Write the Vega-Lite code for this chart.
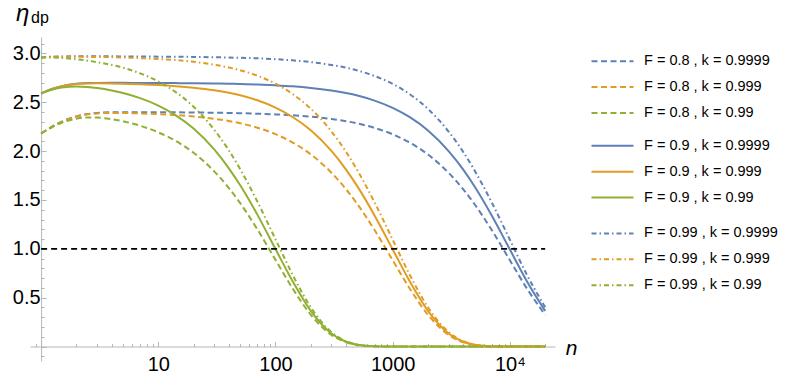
{
  "$schema": "https://vega.github.io/schema/vega-lite/v6.json",
  "width": 525,
  "height": 324,
  "autosize": {"type": "none"},
  "padding": {"left": 30, "top": 37, "right": 234, "bottom": 29},
  "background": "white",
  "config": {"view": {"stroke": null}, "font": "Liberation Sans"},
  "title": {"text": "dp", "anchor": "start", "frame": "group", "orient": "top", "offset": -38, "dx": 1, "fontSize": 16, "font": "Liberation Sans", "fontWeight": "normal", "baseline": "alphabetic", "color": "black"},
  "datasets": {
    "series": [
      {"s": "A", "F": 0.8, "label": "F = 0.8 , k = 0.9999"},
      {"s": "B", "F": 0.8, "label": "F = 0.8 , k = 0.999"},
      {"s": "C", "F": 0.8, "label": "F = 0.8 , k = 0.99"},
      {"s": "D", "F": 0.9, "label": "F = 0.9 , k = 0.9999"},
      {"s": "E", "F": 0.9, "label": "F = 0.9 , k = 0.999"},
      {"s": "F", "F": 0.9, "label": "F = 0.9 , k = 0.99"},
      {"s": "G", "F": 0.99, "label": "F = 0.99 , k = 0.9999"},
      {"s": "H", "F": 0.99, "label": "F = 0.99 , k = 0.999"},
      {"s": "I", "F": 0.99, "label": "F = 0.99 , k = 0.99"}
    ],
    "ref": [{"n": 1, "y": 1}, {"n": 20000, "y": 1}],
    "curves": [
      {"s":"A","n":1,"y":2.180},{"s":"A","n":1.25,"y":2.253},{"s":"A","n":1.5,"y":2.302},{"s":"A","n":2,"y":2.356},{"s":"A","n":2.5,"y":2.380},{"s":"A","n":3,"y":2.391},{"s":"A","n":4,"y":2.398},{"s":"A","n":5,"y":2.399},{"s":"A","n":7,"y":2.399},{"s":"A","n":10,"y":2.398},{"s":"A","n":14,"y":2.397},{"s":"A","n":20,"y":2.395},{"s":"A","n":30,"y":2.393},{"s":"A","n":40,"y":2.391},{"s":"A","n":50,"y":2.388},{"s":"A","n":70,"y":2.383},{"s":"A","n":100,"y":2.376},{"s":"A","n":140,"y":2.367},{"s":"A","n":200,"y":2.353},{"s":"A","n":300,"y":2.329},{"s":"A","n":400,"y":2.306},{"s":"A","n":500,"y":2.283},{"s":"A","n":700,"y":2.238},{"s":"A","n":1000,"y":2.172},{"s":"A","n":1400,"y":2.087},{"s":"A","n":2000,"y":1.965},{"s":"A","n":3000,"y":1.778},{"s":"A","n":4000,"y":1.609},{"s":"A","n":5000,"y":1.456},{"s":"A","n":7000,"y":1.192},{"s":"A","n":10000,"y":0.883},{"s":"A","n":14000,"y":0.592},{"s":"A","n":20000,"y":0.325},
      {"s":"B","n":1,"y":2.180},{"s":"B","n":1.25,"y":2.252},{"s":"B","n":1.5,"y":2.300},{"s":"B","n":2,"y":2.354},{"s":"B","n":2.5,"y":2.377},{"s":"B","n":3,"y":2.386},{"s":"B","n":4,"y":2.391},{"s":"B","n":5,"y":2.390},{"s":"B","n":7,"y":2.386},{"s":"B","n":10,"y":2.379},{"s":"B","n":14,"y":2.369},{"s":"B","n":20,"y":2.355},{"s":"B","n":30,"y":2.331},{"s":"B","n":40,"y":2.308},{"s":"B","n":50,"y":2.285},{"s":"B","n":70,"y":2.240},{"s":"B","n":100,"y":2.174},{"s":"B","n":140,"y":2.088},{"s":"B","n":200,"y":1.967},{"s":"B","n":300,"y":1.779},{"s":"B","n":400,"y":1.610},{"s":"B","n":500,"y":1.457},{"s":"B","n":700,"y":1.193},{"s":"B","n":1000,"y":0.883},{"s":"B","n":1400,"y":0.592},{"s":"B","n":2000,"y":0.325},{"s":"B","n":3000,"y":0.119},{"s":"B","n":4000,"y":0.044},{"s":"B","n":5000,"y":0.016},{"s":"B","n":7000,"y":0.002},{"s":"B","n":10000,"y":0},{"s":"B","n":14000,"y":0},{"s":"B","n":20000,"y":0},
      {"s":"C","n":1,"y":2.180},{"s":"C","n":1.25,"y":2.247},{"s":"C","n":1.5,"y":2.290},{"s":"C","n":2,"y":2.332},{"s":"C","n":2.5,"y":2.344},{"s":"C","n":3,"y":2.343},{"s":"C","n":4,"y":2.327},{"s":"C","n":5,"y":2.305},{"s":"C","n":7,"y":2.260},{"s":"C","n":10,"y":2.192},{"s":"C","n":14,"y":2.106},{"s":"C","n":20,"y":1.983},{"s":"C","n":30,"y":1.793},{"s":"C","n":40,"y":1.622},{"s":"C","n":50,"y":1.467},{"s":"C","n":70,"y":1.200},{"s":"C","n":100,"y":0.887},{"s":"C","n":140,"y":0.594},{"s":"C","n":200,"y":0.325},{"s":"C","n":300,"y":0.119},{"s":"C","n":400,"y":0.044},{"s":"C","n":500,"y":0.016},{"s":"C","n":700,"y":0.002},{"s":"C","n":1000,"y":0},{"s":"C","n":1400,"y":0},{"s":"C","n":2000,"y":0},{"s":"C","n":3000,"y":0},{"s":"C","n":4000,"y":0},{"s":"C","n":5000,"y":0},{"s":"C","n":7000,"y":0},{"s":"C","n":10000,"y":0},{"s":"C","n":14000,"y":0},{"s":"C","n":20000,"y":0},
      {"s":"D","n":1,"y":2.590},{"s":"D","n":1.25,"y":2.638},{"s":"D","n":1.5,"y":2.665},{"s":"D","n":2,"y":2.689},{"s":"D","n":2.5,"y":2.696},{"s":"D","n":3,"y":2.698},{"s":"D","n":4,"y":2.699},{"s":"D","n":5,"y":2.699},{"s":"D","n":7,"y":2.698},{"s":"D","n":10,"y":2.698},{"s":"D","n":14,"y":2.696},{"s":"D","n":20,"y":2.695},{"s":"D","n":30,"y":2.692},{"s":"D","n":40,"y":2.689},{"s":"D","n":50,"y":2.687},{"s":"D","n":70,"y":2.681},{"s":"D","n":100,"y":2.673},{"s":"D","n":140,"y":2.663},{"s":"D","n":200,"y":2.647},{"s":"D","n":300,"y":2.620},{"s":"D","n":400,"y":2.594},{"s":"D","n":500,"y":2.569},{"s":"D","n":700,"y":2.517},{"s":"D","n":1000,"y":2.443},{"s":"D","n":1400,"y":2.347},{"s":"D","n":2000,"y":2.211},{"s":"D","n":3000,"y":2.000},{"s":"D","n":4000,"y":1.810},{"s":"D","n":5000,"y":1.638},{"s":"D","n":7000,"y":1.341},{"s":"D","n":10000,"y":0.993},{"s":"D","n":14000,"y":0.666},{"s":"D","n":20000,"y":0.365},
      {"s":"E","n":1,"y":2.590},{"s":"E","n":1.25,"y":2.637},{"s":"E","n":1.5,"y":2.664},{"s":"E","n":2,"y":2.686},{"s":"E","n":2.5,"y":2.692},{"s":"E","n":3,"y":2.694},{"s":"E","n":4,"y":2.692},{"s":"E","n":5,"y":2.689},{"s":"E","n":7,"y":2.684},{"s":"E","n":10,"y":2.676},{"s":"E","n":14,"y":2.665},{"s":"E","n":20,"y":2.649},{"s":"E","n":30,"y":2.623},{"s":"E","n":40,"y":2.597},{"s":"E","n":50,"y":2.571},{"s":"E","n":70,"y":2.520},{"s":"E","n":100,"y":2.445},{"s":"E","n":140,"y":2.349},{"s":"E","n":200,"y":2.213},{"s":"E","n":300,"y":2.002},{"s":"E","n":400,"y":1.811},{"s":"E","n":500,"y":1.639},{"s":"E","n":700,"y":1.342},{"s":"E","n":1000,"y":0.994},{"s":"E","n":1400,"y":0.666},{"s":"E","n":2000,"y":0.365},{"s":"E","n":3000,"y":0.134},{"s":"E","n":4000,"y":0.049},{"s":"E","n":5000,"y":0.018},{"s":"E","n":7000,"y":0.002},{"s":"E","n":10000,"y":0},{"s":"E","n":14000,"y":0},{"s":"E","n":20000,"y":0},
      {"s":"F","n":1,"y":2.590},{"s":"F","n":1.25,"y":2.631},{"s":"F","n":1.5,"y":2.652},{"s":"F","n":2,"y":2.662},{"s":"F","n":2.5,"y":2.656},{"s":"F","n":3,"y":2.645},{"s":"F","n":4,"y":2.620},{"s":"F","n":5,"y":2.594},{"s":"F","n":7,"y":2.542},{"s":"F","n":10,"y":2.466},{"s":"F","n":14,"y":2.369},{"s":"F","n":20,"y":2.231},{"s":"F","n":30,"y":2.017},{"s":"F","n":40,"y":1.824},{"s":"F","n":50,"y":1.650},{"s":"F","n":70,"y":1.350},{"s":"F","n":100,"y":0.998},{"s":"F","n":140,"y":0.668},{"s":"F","n":200,"y":0.365},{"s":"F","n":300,"y":0.134},{"s":"F","n":400,"y":0.049},{"s":"F","n":500,"y":0.018},{"s":"F","n":700,"y":0.002},{"s":"F","n":1000,"y":0},{"s":"F","n":1400,"y":0},{"s":"F","n":2000,"y":0},{"s":"F","n":3000,"y":0},{"s":"F","n":4000,"y":0},{"s":"F","n":5000,"y":0},{"s":"F","n":7000,"y":0},{"s":"F","n":10000,"y":0},{"s":"F","n":14000,"y":0},{"s":"F","n":20000,"y":0},
      {"s":"G","n":1,"y":2.959},{"s":"G","n":1.25,"y":2.966},{"s":"G","n":1.5,"y":2.969},{"s":"G","n":2,"y":2.970},{"s":"G","n":2.5,"y":2.970},{"s":"G","n":3,"y":2.970},{"s":"G","n":4,"y":2.970},{"s":"G","n":5,"y":2.969},{"s":"G","n":7,"y":2.968},{"s":"G","n":10,"y":2.967},{"s":"G","n":14,"y":2.966},{"s":"G","n":20,"y":2.964},{"s":"G","n":30,"y":2.961},{"s":"G","n":40,"y":2.958},{"s":"G","n":50,"y":2.955},{"s":"G","n":70,"y":2.950},{"s":"G","n":100,"y":2.941},{"s":"G","n":140,"y":2.929},{"s":"G","n":200,"y":2.911},{"s":"G","n":300,"y":2.882},{"s":"G","n":400,"y":2.854},{"s":"G","n":500,"y":2.825},{"s":"G","n":700,"y":2.769},{"s":"G","n":1000,"y":2.688},{"s":"G","n":1400,"y":2.582},{"s":"G","n":2000,"y":2.432},{"s":"G","n":3000,"y":2.200},{"s":"G","n":4000,"y":1.991},{"s":"G","n":5000,"y":1.802},{"s":"G","n":7000,"y":1.475},{"s":"G","n":10000,"y":1.093},{"s":"G","n":14000,"y":0.732},{"s":"G","n":20000,"y":0.402},
      {"s":"H","n":1,"y":2.959},{"s":"H","n":1.25,"y":2.966},{"s":"H","n":1.5,"y":2.967},{"s":"H","n":2,"y":2.967},{"s":"H","n":2.5,"y":2.965},{"s":"H","n":3,"y":2.964},{"s":"H","n":4,"y":2.961},{"s":"H","n":5,"y":2.958},{"s":"H","n":7,"y":2.952},{"s":"H","n":10,"y":2.943},{"s":"H","n":14,"y":2.932},{"s":"H","n":20,"y":2.914},{"s":"H","n":30,"y":2.885},{"s":"H","n":40,"y":2.856},{"s":"H","n":50,"y":2.828},{"s":"H","n":70,"y":2.772},{"s":"H","n":100,"y":2.690},{"s":"H","n":140,"y":2.584},{"s":"H","n":200,"y":2.434},{"s":"H","n":300,"y":2.202},{"s":"H","n":400,"y":1.992},{"s":"H","n":500,"y":1.803},{"s":"H","n":700,"y":1.476},{"s":"H","n":1000,"y":1.093},{"s":"H","n":1400,"y":0.733},{"s":"H","n":2000,"y":0.402},{"s":"H","n":3000,"y":0.148},{"s":"H","n":4000,"y":0.054},{"s":"H","n":5000,"y":0.020},{"s":"H","n":7000,"y":0.003},{"s":"H","n":10000,"y":0},{"s":"H","n":14000,"y":0},{"s":"H","n":20000,"y":0},
      {"s":"I","n":1,"y":2.959},{"s":"I","n":1.25,"y":2.959},{"s":"I","n":1.5,"y":2.954},{"s":"I","n":2,"y":2.940},{"s":"I","n":2.5,"y":2.926},{"s":"I","n":3,"y":2.911},{"s":"I","n":4,"y":2.882},{"s":"I","n":5,"y":2.853},{"s":"I","n":7,"y":2.796},{"s":"I","n":10,"y":2.713},{"s":"I","n":14,"y":2.606},{"s":"I","n":20,"y":2.454},{"s":"I","n":30,"y":2.219},{"s":"I","n":40,"y":2.007},{"s":"I","n":50,"y":1.815},{"s":"I","n":70,"y":1.484},{"s":"I","n":100,"y":1.098},{"s":"I","n":140,"y":0.735},{"s":"I","n":200,"y":0.402},{"s":"I","n":300,"y":0.147},{"s":"I","n":400,"y":0.054},{"s":"I","n":500,"y":0.020},{"s":"I","n":700,"y":0.003},{"s":"I","n":1000,"y":0},{"s":"I","n":1400,"y":0},{"s":"I","n":2000,"y":0},{"s":"I","n":3000,"y":0},{"s":"I","n":4000,"y":0},{"s":"I","n":5000,"y":0},{"s":"I","n":7000,"y":0},{"s":"I","n":10000,"y":0},{"s":"I","n":14000,"y":0},{"s":"I","n":20000,"y":0}
    ]
  },
  "encoding": {
    "x": {
      "field": "n", "type": "quantitative",
      "scale": {"type": "log", "domain": [0.804, 24260], "nice": false},
      "axis": {
        "values": [0.9,1,2,3,4,5,6,7,8,9,10,20,30,40,50,60,70,80,90,100,200,300,400,500,600,700,800,900,1000,2000,3000,4000,5000,6000,7000,8000,9000,10000,20000],
        "offset": -14.5,
        "grid": false,
        "domainColor": "#b5b5b5", "domainWidth": 1,
        "tickColor": "#b5b5b5", "tickWidth": 1,
        "tickSize": {"condition": {"test": "indexof([1,10,100,1000,10000], datum.value) >= 0", "value": -5}, "value": -3},
        "labelExpr": "datum.value == 10 ? '10' : datum.value == 100 ? '100' : datum.value == 1000 ? '1000' : datum.value == 10000 ? '10⁴' : ''",
        "labelFontSize": 20, "labelColor": "black", "labelFont": "Liberation Sans",
        "labelPadding": 13, "labelOverlap": false, "labelFlush": false,
        "title": "n", "titleFontStyle": "italic", "titleFontSize": 21, "titleFontWeight": "normal", "titleColor": "black",
        "titleFont": "Liberation Sans",
        "titleX": 541, "titleY": 7.5, "titleBaseline": "alphabetic", "titleAlign": "center", "titleAngle": 0
      }
    },
    "y": {
      "field": "y", "type": "quantitative",
      "scale": {"domain": [-0.148, 3.168], "nice": false, "zero": false},
      "axis": {
        "values": [-0.1,0,0.1,0.2,0.3,0.4,0.5,0.6,0.7,0.8,0.9,1,1.1,1.2,1.3,1.4,1.5,1.6,1.7,1.8,1.9,2,2.1,2.2,2.3,2.4,2.5,2.6,2.7,2.8,2.9,3,3.1],
        "offset": -11.1,
        "grid": false,
        "domainColor": "#b5b5b5", "domainWidth": 1,
        "tickColor": "#b5b5b5", "tickWidth": 1,
        "tickSize": {"condition": {"test": "abs(datum.value*2 - round(datum.value*2)) < 0.001", "value": -5}, "value": -3},
        "labelExpr": "datum.value > 0.01 && abs(datum.value*2 - round(datum.value*2)) < 0.001 ? format(datum.value, '.1f') : ''",
        "labelFontSize": 20, "labelColor": "black", "labelFont": "Liberation Sans",
        "labelPadding": 6, "labelOverlap": false, "labelFlush": false,
        "title": "η", "titleFontStyle": "italic", "titleFontSize": 24, "titleFontWeight": "normal", "titleColor": "black",
        "titleFont": "Liberation Sans",
        "titleX": -19, "titleY": -17, "titleBaseline": "alphabetic", "titleAlign": "center", "titleAngle": 0
      }
    }
  },
  "layer": [
    {
      "data": {"name": "curves"},
      "transform": [
        {"filter": {"field": "s", "oneOf": ["A", "B", "C"]}},
        {"lookup": "s", "from": {"data": {"name": "series"}, "key": "s", "fields": ["label"]}}
      ],
      "mark": {"type": "line", "strokeWidth": 2, "strokeDash": [6, 3.5], "interpolate": "monotone"},
      "encoding": {
        "color": {
          "field": "label", "type": "nominal",
          "scale": {"domain": ["F = 0.8 , k = 0.9999", "F = 0.8 , k = 0.999", "F = 0.8 , k = 0.99"], "range": ["#5E81B5", "#E19C24", "#8FB032"]},
          "legend": {"orient": "none", "legendX": 574, "legendY": 15.7, "title": null, "symbolType": "M-2.8,0H2.8", "symbolSize": 225, "symbolStrokeWidth": 2, "symbolDash": [6, 3.5], "labelFontSize": 14.5, "labelFont": "Liberation Sans", "labelColor": "black", "labelOffset": 23, "rowPadding": 10.9, "padding": 0}
        }
      }
    },
    {
      "data": {"name": "curves"},
      "transform": [
        {"filter": {"field": "s", "oneOf": ["D", "E", "F"]}},
        {"lookup": "s", "from": {"data": {"name": "series"}, "key": "s", "fields": ["label"]}}
      ],
      "mark": {"type": "line", "strokeWidth": 2, "interpolate": "monotone"},
      "encoding": {
        "color": {
          "field": "label", "type": "nominal",
          "scale": {"domain": ["F = 0.9 , k = 0.9999", "F = 0.9 , k = 0.999", "F = 0.9 , k = 0.99"], "range": ["#5E81B5", "#E19C24", "#8FB032"]},
          "legend": {"orient": "none", "legendX": 574, "legendY": 100.3, "title": null, "symbolType": "M-2.8,0H2.8", "symbolSize": 225, "symbolStrokeWidth": 2, "labelFontSize": 14.5, "labelFont": "Liberation Sans", "labelColor": "black", "labelOffset": 23, "rowPadding": 10.9, "padding": 0}
        }
      }
    },
    {
      "data": {"name": "curves"},
      "transform": [
        {"filter": {"field": "s", "oneOf": ["G", "H", "I"]}},
        {"lookup": "s", "from": {"data": {"name": "series"}, "key": "s", "fields": ["label"]}}
      ],
      "mark": {"type": "line", "strokeWidth": 2, "strokeDash": [5, 3, 1.5, 3], "interpolate": "monotone"},
      "encoding": {
        "color": {
          "field": "label", "type": "nominal",
          "scale": {"domain": ["F = 0.99 , k = 0.9999", "F = 0.99 , k = 0.999", "F = 0.99 , k = 0.99"], "range": ["#5E81B5", "#E19C24", "#8FB032"]},
          "legend": {"orient": "none", "legendX": 574, "legendY": 187.9, "title": null, "symbolType": "M-2.8,0H2.8", "symbolSize": 225, "symbolStrokeWidth": 2, "symbolDash": [5, 3, 1.5, 3], "labelFontSize": 14.5, "labelFont": "Liberation Sans", "labelColor": "black", "labelOffset": 23, "rowPadding": 10.9, "padding": 0}
        }
      }
    },
    {
      "data": {"name": "ref"},
      "mark": {"type": "line", "color": "black", "strokeWidth": 1.8, "strokeDash": [6, 4]},
      "encoding": {}
    }
  ],
  "resolve": {"scale": {"color": "independent"}, "legend": {"color": "independent"}}
}
